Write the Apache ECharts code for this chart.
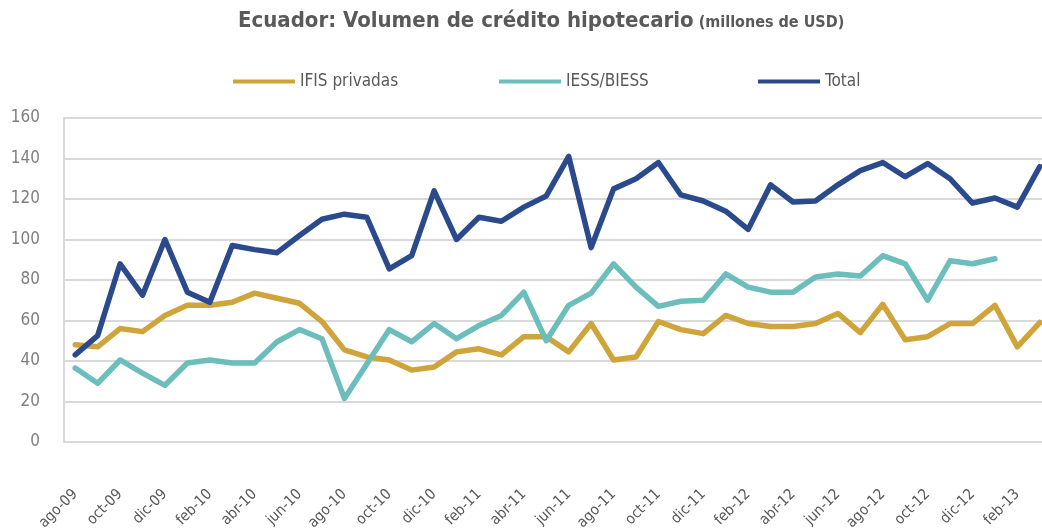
<!DOCTYPE html>
<html>
<head>
<meta charset="utf-8">
<script src="https://cdn.jsdelivr.net/npm/echarts@6/dist/echarts.min.js"></script>
<style>
  html, body { margin: 0; padding: 0; background: #fff; }
  #chart { width: 1042px; height: 529px; }
</style>
</head>
<body>
<div id="chart"></div>
<script>
// meses (ago-09 a mar-13)
const months = [
  'ago-09', 'sep-09', 'oct-09', 'nov-09', 'dic-09',
  'ene-10', 'feb-10', 'mar-10', 'abr-10', 'may-10', 'jun-10', 'jul-10', 'ago-10', 'sep-10', 'oct-10', 'nov-10', 'dic-10',
  'ene-11', 'feb-11', 'mar-11', 'abr-11', 'may-11', 'jun-11', 'jul-11', 'ago-11', 'sep-11', 'oct-11', 'nov-11', 'dic-11',
  'ene-12', 'feb-12', 'mar-12', 'abr-12', 'may-12', 'jun-12', 'jul-12', 'ago-12', 'sep-12', 'oct-12', 'nov-12', 'dic-12',
  'ene-13', 'feb-13', 'mar-13'
];
const ifisPrivadas = [
  48, 47, 56, 54.5, 62.5,
  67.5, 67.5, 69, 73.5, 71, 68.5, 59.5, 45.5, 42, 40.5, 35.5, 37,
  44.5, 46, 43, 52, 52, 44.5, 58.5, 40.5, 42, 59.5, 55.5, 53.5,
  62.5, 58.5, 57, 57, 58.5, 63.5, 54, 68, 50.5, 52, 58.5, 58.5,
  67.5, 47, 59
];
const iessBiess = [
  36.5, 29, 40.5, 34, 28,
  39, 40.5, 39, 39, 49.5, 55.5, 51, 21.5, 38.5, 55.5, 49.5, 58.5,
  51, 57.5, 62.5, 74, 50, 67.5, 73.5, 88, 76.5, 67, 69.5, 70,
  83, 76.5, 74, 74, 81.5, 83, 82, 92, 88, 70, 89.5, 88,
  90.5, null, null
];
const total = [
  43, 52.5, 88, 72.5, 100,
  74, 69, 97, 95, 93.5, 102, 110, 112.5, 111, 85.5, 92, 124,
  100, 111, 109, 116, 121.5, 141, 96, 125, 130, 138, 122, 119,
  114, 105, 127, 118.5, 119, 127, 134, 138, 131, 137.5, 130, 118,
  120.5, 116, 136
];
const seriesNames = ['IFIS privadas', 'IESS/BIESS', 'Total'];
const yTicks = { min: 0, max: 160, interval: 20 };

// fuente estrecha, parecida a Arial Narrow
const FONT = '"DejaVu Sans Condensed", "Liberation Sans Narrow", "Arial Narrow", sans-serif';
const GRAY = '#595959';

const chart = echarts.init(document.getElementById('chart'));

const mkLine = (name, data, color) => ({
  name: name,
  type: 'line',
  data: data,
  symbol: 'none',
  smooth: false,
  connectNulls: false,
  lineStyle: { color: color, width: 5.5, cap: 'round', join: 'round' },
  itemStyle: { color: color },
  emphasis: { disabled: true },
});

// una leyenda por serie, para colocarlas como en el original
const mkLegend = (name, left) => ({
  top: 68,
  left: left,
  itemWidth: 62,
  itemHeight: 4,
  icon: 'rect',
  textStyle: { fontFamily: FONT, fontSize: 17, color: GRAY },
  data: [name],
});

chart.setOption({
  backgroundColor: '#fff',
  animation: false,
  title: {
    text: '{a|Ecuador: Volumen de crédito hipotecario} {b|(millones de USD)}',
    left: 233,
    top: 5,
    textStyle: {
      rich: {
        a: { fontFamily: FONT, fontSize: 22, fontWeight: 'bold', color: GRAY },
        b: { fontFamily: FONT, fontSize: 16, fontWeight: 'bold', color: GRAY, padding: [4, 0, 0, 0] },
      },
    },
  },
  legend: [
    mkLegend(seriesNames[0], 228),
    mkLegend(seriesNames[1], 494),
    mkLegend(seriesNames[2], 753),
  ],
  grid: {
    left: 64, right: -9, top: 118, bottom: 87,
    containLabel: false,
    outerBoundsMode: 'none',
  },
  xAxis: {
    type: 'category',
    data: months,
    boundaryGap: true,
    axisLine: { show: false },
    axisTick: { show: false },
    axisLabel: {
      interval: 1,
      rotate: 45,
      margin: 50,
      fontFamily: FONT,
      fontSize: 15,
      color: GRAY,
    },
  },
  yAxis: {
    type: 'value',
    min: yTicks.min,
    max: yTicks.max,
    interval: yTicks.interval,
    axisLine: { show: true, lineStyle: { color: '#d9d9d9', width: 2 } },
    axisTick: { show: false },
    axisLabel: { margin: 24, fontFamily: FONT, fontSize: 17, color: '#7f7f7f' },
    splitLine: { lineStyle: { color: '#d9d9d9', width: 2 } },
  },
  series: [
    mkLine(seriesNames[0], ifisPrivadas, '#CFA43A'),
    mkLine(seriesNames[1], iessBiess, '#6CBEBD'),
    mkLine(seriesNames[2], total, '#2B4A8C'),
  ],
});
</script>
</body>
</html>
